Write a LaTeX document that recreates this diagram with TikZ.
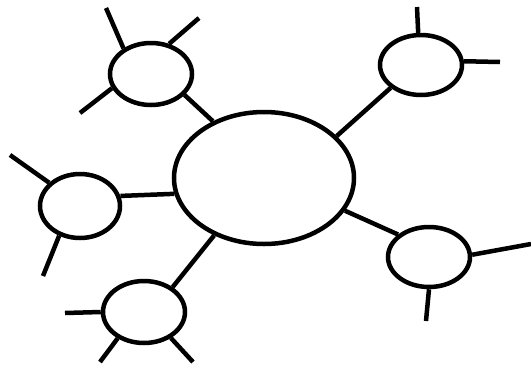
\documentclass[tikz,border=0pt]{standalone}
\usetikzlibrary{shapes.geometric}
\begin{document}
\begin{tikzpicture}[x=1pt,y=-1pt,
  bubble/.style={draw=black,line width=4.5pt,ellipse,inner sep=0pt},
  link/.style={draw=black,line width=4.5pt}]
\fill[white] (0,0) rectangle (531,365);
\useasboundingbox (0,0) rectangle (531,365);
% central
\node[bubble,minimum width=180pt,minimum height=132pt] (c) at (264,178) {};
% satellites
\node[bubble,minimum width=82pt,minimum height=62pt] (tl) at (151,74) {};
\node[bubble,minimum width=82pt,minimum height=60pt] (tr) at (421,65) {};
\node[bubble,minimum width=80pt,minimum height=64pt] (l) at (80,206) {};
\node[bubble,minimum width=82pt,minimum height=62pt] (bl) at (144,312) {};
\node[bubble,minimum width=82pt,minimum height=60pt] (r) at (429,257) {};
% free ends
\coordinate (tl1) at (106,8);
\coordinate (tl2) at (199,18);
\coordinate (tl3) at (80,113);
\coordinate (tr1) at (417,7);
\coordinate (tr2) at (500,62);
\coordinate (l1) at (10,155);
\coordinate (l2) at (43,276);
\coordinate (bl1) at (65,313);
\coordinate (bl2) at (100,362);
\coordinate (bl3) at (193,362);
\coordinate (r1) at (531,244);
\coordinate (r2) at (426,321);
% connectors
\draw[link] (tl.-32) -- (c.132);
\draw[link] (tr.217) -- (c.30);
\draw[link] (l.14) -- (c.190);
\draw[link] (bl.41) -- (c.229);
\draw[link] (r.144) -- (c.-22);
% spokes
\draw[link] (tl.137) -- (tl1);
\draw[link] (tl.59) -- (tl2);
\draw[link] (tl.200) -- (tl3);
\draw[link] (tr.95) -- (tr1);
\draw[link] (tr.5) -- (tr2);
\draw[link] (l.143) -- (l1);
\draw[link] (l.235) -- (l2);
\draw[link] (bl.180) -- (bl1);
\draw[link] (bl.225) -- (bl2);
\draw[link] (bl.-44) -- (bl3);
\draw[link] (r.3) -- (r1);
\draw[link] (r.270) -- (r2);
\end{tikzpicture}
\end{document}
